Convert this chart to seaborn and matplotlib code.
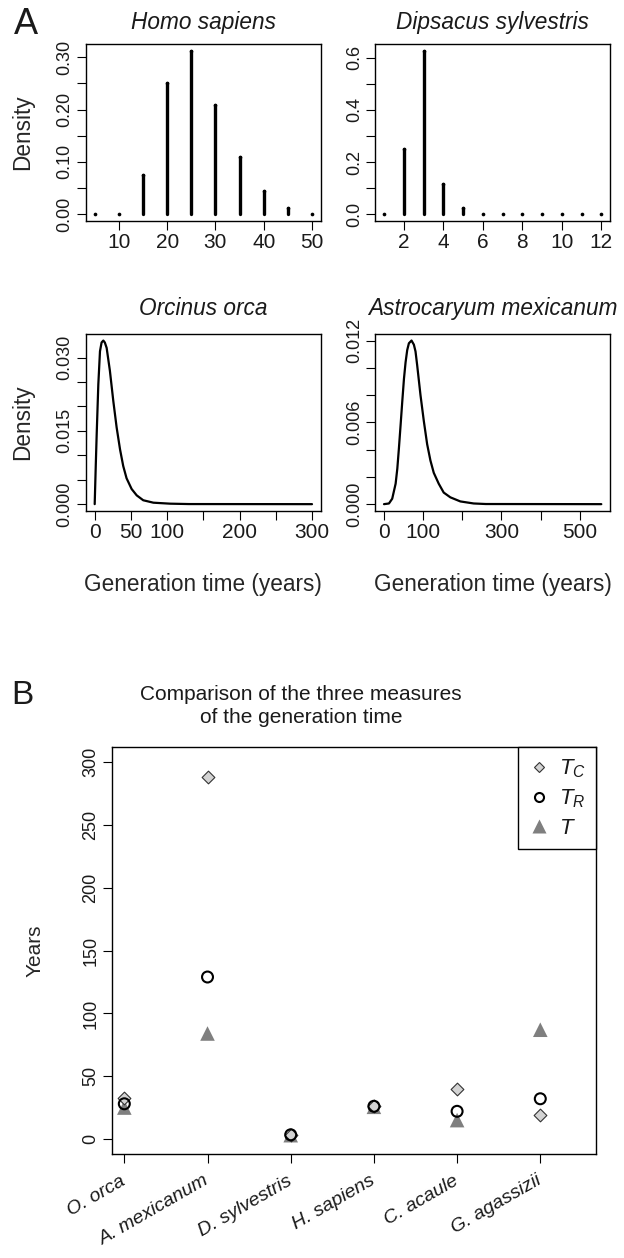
import matplotlib
matplotlib.use("Agg")
import pandas as pd
import seaborn as sns
from matplotlib import pyplot as plt
from matplotlib import font_manager as fm
from matplotlib.lines import Line2D

# panel A: discrete distributions (age, probability)
homo_age = [5, 10, 15, 20, 25, 30, 35, 40, 45, 50]
homo_density = [0.0, 0.0, 0.075, 0.251, 0.313, 0.209, 0.109, 0.045, 0.012, 0.0]

dips_age = [1, 2, 3, 4, 5, 6, 7, 8, 9, 10, 11, 12]
dips_density = [0.0, 0.249, 0.628, 0.117, 0.022, 0.0, 0.0, 0.0, 0.0, 0.0, 0.0, 0.0]

# panel A: continuous densities
orca_age = [0, 1.5, 2.75, 5, 7.3, 9.5, 11.9, 14, 16.5, 21, 25.7, 30.3, 35, 39.4,
            44, 51, 58, 67, 81, 104, 130, 300]
orca_density = [0.0, 0.008, 0.0143, 0.0245, 0.0313, 0.0331, 0.0335, 0.0331, 0.0320,
                0.0273, 0.0211, 0.0157, 0.0112, 0.0078, 0.0053, 0.0031, 0.0018,
                0.0008, 0.0003, 0.0001, 0.00002, 0.0]

astro_age = [0, 12.7, 21, 29.7, 34, 38.1, 42.4, 46.6, 51, 55.1, 59.3, 63.6, 70.3,
             76.3, 80.5, 84.7, 93.2, 101.7, 110.2, 118.6, 127.1, 139.8, 152.5,
             169.5, 195, 229, 260, 555]
astro_density = [0.0, 0.00005, 0.0004, 0.0015, 0.0026, 0.0041, 0.0058, 0.0075,
                 0.0092, 0.0104, 0.0113, 0.0118, 0.0120, 0.0117, 0.0112, 0.0102,
                 0.0080, 0.0061, 0.0044, 0.0032, 0.0023, 0.0015, 0.00085, 0.0005,
                 0.0002, 0.00005, 0.00001, 0.0]

# panel B: three measures of generation time
species = ["O. orca", "A. mexicanum", "D. sylvestris", "H. sapiens", "C. acaule", "G. agassizii"]
t_c = [33, 288, 3.5, 26.5, 40, 19]
t_r = [28, 129, 3.3, 26, 22, 32]
t_gen = [25, 84, 3.0, 25.6, 15, 87]


def pick_font(families):
    for f in families:
        try:
            fm.findfont(fm.FontProperties(family=f), fallback_to_default=False)
            return f
        except ValueError:
            pass
    return None


sns.set_theme(style="ticks")
plt.rcParams["font.family"] = ["Liberation Sans", "DejaVu Sans"]
plt.rcParams["mathtext.fontset"] = "custom"
plt.rcParams["mathtext.it"] = "Liberation Sans:italic"
plt.rcParams["mathtext.rm"] = "Liberation Sans"
plt.rcParams["axes.linewidth"] = 1.0
plt.rcParams["axes.edgecolor"] = "black"
plt.rcParams["text.color"] = "#1a1a1a"

# y tick labels in the reference are narrow: use a condensed face when one exists
narrow = pick_font(["Liberation Sans Narrow", "DejaVu Sans Condensed"])
if narrow:
    YTICK_FONT = {"family": [narrow, "Liberation Sans"], "size": 14}
else:
    YTICK_FONT = {"family": ["Liberation Sans"], "size": 13}

LAB = 16.3   # titles and axis labels
XT = 15      # x tick labels
W, H = 624, 1258
fig = plt.figure(figsize=(W / 100, H / 100), dpi=100)


def add_axes(x0, y0, x1, y1):
    return fig.add_axes([x0 / W, 1 - y1 / H, (x1 - x0) / W, (y1 - y0) / H])


def pad4(lo, hi):
    r = hi - lo
    return lo - 0.04 * r, hi + 0.04 * r


def style(ax, xticks, xlabels, yticks, ylabels):
    ax.set_xticks(xticks)
    ax.set_xticklabels(xlabels, fontsize=XT)
    ax.set_yticks(yticks)
    ax.set_yticklabels(ylabels, rotation=90, va="center", **YTICK_FONT)
    ax.tick_params(direction="out", length=6.5, width=0.8,
                   colors="black", labelcolor="#1a1a1a")
    ax.tick_params(axis="x", pad=2.5)
    ax.tick_params(axis="y", pad=2.5)
    for s in ax.spines.values():
        s.set_visible(True)
        s.set_linewidth(1.0)
    ax.set_xlabel("")
    ax.set_ylabel("")


def spike(ax, xs, ys):
    ax.vlines(xs, 0, ys, colors="black", linewidth=2.4, capstyle="round")
    sns.scatterplot(x=xs, y=ys, ax=ax, color="black", s=7, linewidth=0, legend=False)


# Homo sapiens
ax1 = add_axes(86, 44, 320.7, 220.7)
spike(ax1, homo_age, homo_density)
ax1.set_xlim(*pad4(min(homo_age), max(homo_age)))
ax1.set_ylim(*pad4(0, max(homo_density)))
style(ax1, [10, 20, 30, 40, 50], ["10", "20", "30", "40", "50"],
      [0, 0.05, 0.10, 0.15, 0.20, 0.25, 0.30], ["0.00", "", "0.10", "", "0.20", "", "0.30"])
ax1.set_title("Homo sapiens", fontsize=LAB, style="italic", pad=11)
ax1.set_ylabel("Density", fontsize=LAB)
ax1.yaxis.set_label_coords(-0.222, 0.5)

# Dipsacus sylvestris
ax2 = add_axes(375.3, 44, 610, 220.7)
spike(ax2, dips_age, dips_density)
ax2.set_xlim(*pad4(min(dips_age), max(dips_age)))
ax2.set_ylim(*pad4(0, max(dips_density)))
style(ax2, [2, 4, 6, 8, 10, 12], ["2", "4", "6", "8", "10", "12"],
      [0, 0.1, 0.2, 0.3, 0.4, 0.5, 0.6], ["0.0", "", "0.2", "", "0.4", "", "0.6"])
ax2.set_title("Dipsacus sylvestris", fontsize=LAB, style="italic", pad=11)

# Orcinus orca
ax3 = add_axes(86, 334, 320.7, 510.7)
sns.lineplot(x=orca_age, y=orca_density, ax=ax3, color="black", linewidth=1.6)
ax3.set_xlim(*pad4(0, 300))
ax3.set_ylim(*pad4(0, max(orca_density)))
style(ax3, [0, 50, 100, 150, 200, 250, 300], ["0", "50", "100", "", "200", "", "300"],
      [0, 0.005, 0.010, 0.015, 0.020, 0.025, 0.030],
      ["0.000", "", "", "0.015", "", "", "0.030"])
ax3.set_title("Orcinus orca", fontsize=LAB, style="italic", pad=13.5)
ax3.set_ylabel("Density", fontsize=LAB)
ax3.yaxis.set_label_coords(-0.222, 0.5)
ax3.set_xlabel("Generation time (years)", fontsize=LAB, va="top")
ax3.xaxis.set_label_coords(0.5, -0.353)

# Astrocaryum mexicanum
ax4 = add_axes(375.3, 334, 610, 510.7)
sns.lineplot(x=astro_age, y=astro_density, ax=ax4, color="black", linewidth=1.6)
ax4.set_xlim(*pad4(0, max(astro_age)))
ax4.set_ylim(*pad4(0, max(astro_density)))
style(ax4, [0, 100, 200, 300, 400, 500], ["0", "100", "", "300", "", "500"],
      [0, 0.002, 0.004, 0.006, 0.008, 0.010, 0.012],
      ["0.000", "", "", "0.006", "", "", "0.012"])
ax4.set_title("Astrocaryum mexicanum", fontsize=LAB, style="italic", pad=13.5)
ax4.set_xlabel("Generation time (years)", fontsize=LAB, va="top")
ax4.xaxis.set_label_coords(0.5, -0.353)

# panel B
df = pd.DataFrame({"species": species, "Tc": t_c, "Tr": t_r, "T": t_gen})
ax5 = add_axes(112, 747.3, 595.7, 1154)
sns.scatterplot(data=df, x="species", y="T", ax=ax5, marker="^", s=110,
                color="#7f7f7f", edgecolor="none", legend=False, zorder=3)
sns.scatterplot(data=df, x="species", y="Tc", ax=ax5, marker="D", s=42,
                color="#d3d3d3", edgecolor="#333333", linewidth=0.8, legend=False, zorder=4)
sns.scatterplot(data=df, x="species", y="Tr", ax=ax5, marker="o", s=62,
                facecolor="none", edgecolor="black", linewidth=1.5, legend=False, zorder=5)
ax5.set_xlim(-0.148, len(species) - 1 + 0.666)
ax5.set_ylim(*pad4(0, 300))
style(ax5, list(range(len(species))), species,
      [0, 50, 100, 150, 200, 250, 300], ["0", "50", "100", "150", "200", "250", "300"])
for lab in ax5.get_xticklabels():
    lab.set_rotation(30)
    lab.set_ha("right")
    lab.set_va("center")
    lab.set_rotation_mode("anchor")
    lab.set_style("italic")
    lab.set_fontsize(14)
ax5.tick_params(axis="x", pad=12)
ax5.set_ylabel("Years", fontsize=15)
ax5.yaxis.set_label_coords(-0.14, 0.5)

handles = [
    Line2D([], [], linestyle="none", marker="D", markersize=5.5, markerfacecolor="#d3d3d3",
           markeredgecolor="#333333", markeredgewidth=0.8),
    Line2D([], [], linestyle="none", marker="o", markersize=6.5, markerfacecolor="none",
           markeredgecolor="black", markeredgewidth=1.5),
    Line2D([], [], linestyle="none", marker="^", markersize=9.5, markerfacecolor="#7f7f7f",
           markeredgecolor="none"),
]
leg = ax5.legend(handles, [r"$T_C$", r"$T_R$", r"$T$"], loc="upper right",
                 borderaxespad=0, fancybox=False, framealpha=1, edgecolor="black",
                 fontsize=16, handlelength=1.0, handletextpad=0.4,
                 labelspacing=0.35, borderpad=0.45)
leg.get_frame().set_linewidth(1.0)

fig.text(301 / W, 1 - 705.8 / H, "Comparison of the three measures\nof the generation time",
         ha="center", va="center", fontsize=15.0, linespacing=1.3)
fig.text(26 / W, 1 - 25 / H, "A", ha="center", va="center", fontsize=26)
fig.text(22.5 / W, 1 - 695.5 / H, "B", ha="center", va="center", fontsize=24)

fig.savefig("out.png", dpi=100)
